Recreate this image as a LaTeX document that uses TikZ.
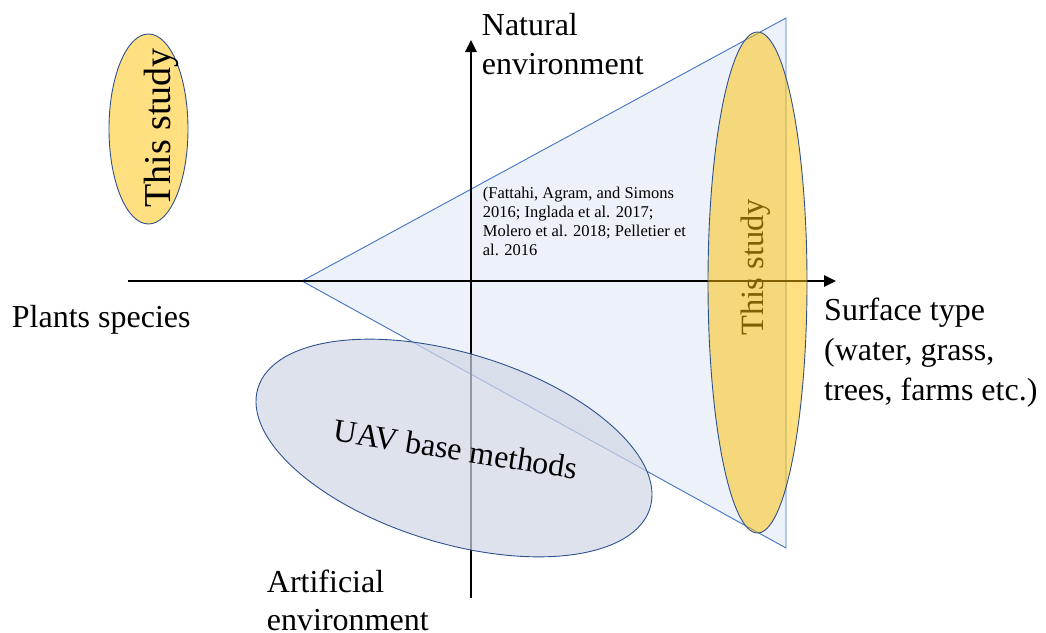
\documentclass[tikz,border=0pt]{standalone}
\usepackage{fontspec}
\setmainfont{Liberation Serif}
\usetikzlibrary{arrows.meta,shapes.geometric}

\definecolor{coneFill}{HTML}{EDF2FA}
\definecolor{coneLine}{HTML}{4472C4}
\definecolor{studyFill}{HTML}{FFC000}
\definecolor{shapeLine}{HTML}{2F528F}
\definecolor{uavFill}{HTML}{D0D6E4}

\tikzset{
  axis/.style={line width=2.6pt, -{Triangle[length=12pt,width=11pt]}},
  cone/.style={fill=coneFill, draw=coneLine, line width=0.9pt, line join=miter},
  studyoval/.style={ellipse, inner sep=0pt, fill=studyFill, fill opacity=0.5,
                    draw=shapeLine, draw opacity=1, line width=0.9pt},
  uavoval/.style={ellipse, inner sep=0pt, fill=uavFill, fill opacity=0.7,
                  draw=shapeLine, draw opacity=1, line width=0.9pt},
  axlabel/.style={inner sep=0pt, align=left, anchor=north west},
}

\begin{document}
\begin{tikzpicture}[x=1pt, y=-1pt]
\useasboundingbox (0,0) rectangle (1046,632);

% cone of related work
\coordinate (apex) at (302,281);
\coordinate (ctop) at (786,18);
\coordinate (cbot) at (786,548);
\filldraw[cone] (apex) -- (ctop) -- (cbot) -- cycle;

% axes
\coordinate (xl) at (128,281);
\coordinate (xr) at (836,281);
\coordinate (yb) at (471,598);
\coordinate (yt) at (471,40);
\draw[axis] (xl) -- (xr);
\draw[axis] (yb) -- (yt);

% UAV based methods
\node[uavoval, rotate=-17, minimum width=410pt, minimum height=190pt] (uav) at (454,448) {};
\node[anchor=base, rotate=-9, inner sep=0pt, font=\fontsize{32}{38}\selectfont] (uavtxt) at (454,460) {UAV base methods};

% this study (right), text lies beneath the translucent oval
\node[anchor=base, rotate=90, inner sep=0pt, font=\fontsize{32.5}{38}\selectfont] (bigtxt) at (763,267) {This study};
\node[studyoval, minimum width=99pt, minimum height=501pt] (big) at (757.5,282.5) {};

% this study (left)
\node[studyoval, minimum width=79pt, minimum height=190pt] (small) at (148.5,129) {};
\node[anchor=base, rotate=90, inner sep=0pt, font=\fontsize{38}{42}\selectfont] (smalltxt) at (170,128) {This study};

% related work citations
\node[axlabel, font=\fontsize{16.5}{19}\selectfont] (cite) at (482.7,186.8)
  {(Fattahi, Agram, and Simons\\2016; Inglada et al. 2017;\\Molero et al. 2018; Pelletier et\\al. 2016};

% axis labels
\node[axlabel, font=\fontsize{32}{39}\selectfont] (natural) at (481.7,13.1) {Natural\\environment};
\node[axlabel, font=\fontsize{32}{40}\selectfont] (surface) at (824,298.1) {Surface type\\(water, grass,\\trees, farms etc.)};
\node[axlabel, font=\fontsize{32}{38}\selectfont] (artificial) at (266.7,569.6) {Artificial\\environment};
\node[inner sep=0pt, anchor=base west, font=\fontsize{32}{38}\selectfont] (plants) at (11.7,327) {Plants species};
\end{tikzpicture}
\end{document}
